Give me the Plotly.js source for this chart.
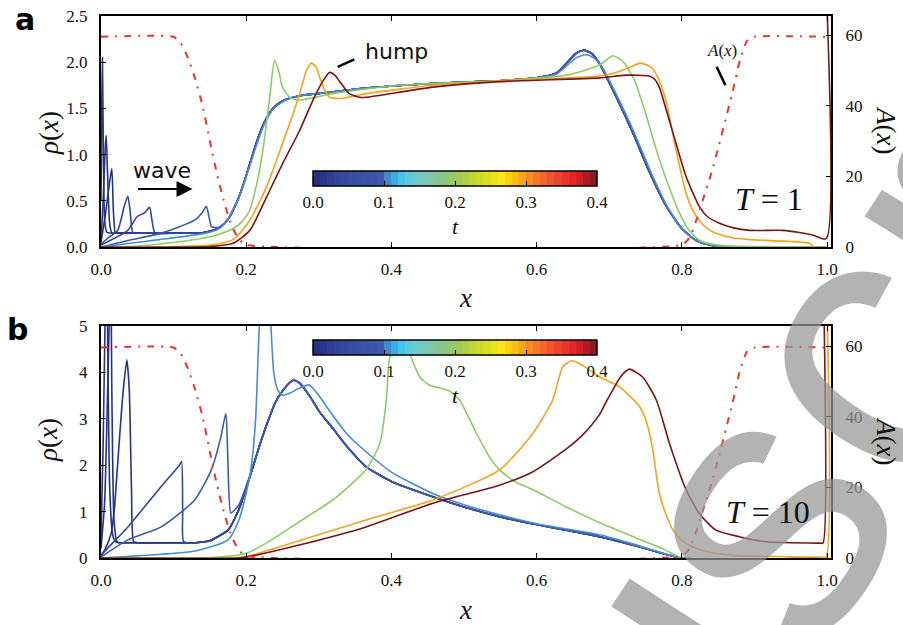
<!DOCTYPE html>
<html><head><meta charset="utf-8">
<script src="https://cdn.plot.ly/plotly-3.0.1.min.js"></script>
<style>html,body{margin:0;padding:0;background:#fff}#chart{width:903px;height:625px}</style>
</head><body><div id="chart"></div>
<script>
// ---------------- DATA ----------------
const tTicks = [0.0, 0.1, 0.2, 0.3, 0.4];
const cbColors = ['#262f83','#2a3489','#2f3d93','#334599','#354a9e','#374ea1','#3951a4','#3a53a6','#3b56a8','#3d5aab',
 '#4588c8','#3aaee2','#48c3e9','#5bc9df','#6cc9cd','#78c7bb','#80c6a8','#86c594','#8bc682','#93c86f',
 '#a0cb5a','#afd046','#bed535','#cdda28','#dcdf20','#eae31b','#fae517','#fdd013','#fcbd15','#faa61c',
 '#f78e22','#f57927','#f2662a','#ef552c','#ec452c','#e8362a','#e32628','#d01f27','#b01c25','#8f1a20'];

// A(x) profile (right axis)
const Ax = [0,0.10,0.11,0.12,0.13,0.14,0.15,0.16,0.17,0.18,0.19,0.20,0.80,0.81,0.82,0.83,0.84,0.85,0.86,0.87,0.88,0.89,0.90,1.0];
const Av = [59.6,59.6,57.8,53.5,47.5,40,30,20.5,12.5,6,2.2,0.6,0.6,2.5,7.6,14,20.5,28,36,44,53,58.5,59.6,59.6];

// ---- panel a (T = 1) ----
const aBulkX = [0.02,0.05,0.10,0.14,0.155,0.165,0.175,0.185,0.195,0.205,0.215,0.225,0.237,0.25,0.265,0.28,0.30,0.365,0.457,0.549,0.60,0.627,0.64,0.655,0.665,0.675,0.687,0.71,0.733,0.755,0.778,0.80,0.82,0.84,0.86,1.0];
const aBulkRho = [0.15,0.15,0.15,0.155,0.18,0.22,0.30,0.45,0.65,0.90,1.15,1.35,1.50,1.58,1.62,1.645,1.66,1.72,1.77,1.80,1.83,1.88,1.98,2.10,2.13,2.10,1.98,1.62,1.23,0.82,0.45,0.20,0.07,0.02,0.0,0.0];
const aW0x = [0,0.001,0.002,0.003,0.005,0.008];           const aW0y = [0.5,1.5,2.05,1.2,0.3,0.16];
const aW1x = [0,0.003,0.006,0.0072,0.009,0.012,0.015];    const aW1y = [0.05,0.5,1.1,1.21,0.8,0.25,0.15];
const aW2x = [0,0.006,0.011,0.0149,0.017,0.0195];         const aW2y = [0.05,0.35,0.65,0.85,0.4,0.15];
const aW3x = [0,0.01,0.023,0.032,0.037,0.04,0.044];       const aW3y = [0.03,0.1,0.18,0.44,0.55,0.4,0.15];
const aW4x = [0,0.02,0.037,0.05,0.06,0.0668,0.07,0.0746]; const aW4y = [0.02,0.1,0.18,0.33,0.37,0.43,0.3,0.15];
const aW5x = [0,0.037,0.083,0.129,0.14,0.145,0.149,0.152,0.158]; const aW5y = [0,0.07,0.15,0.29,0.38,0.44,0.32,0.22,0.21];
const aT1x = [0,0.04,0.08,0.12,0.15,0.165,0.175,0.185,0.195,0.205,0.215,0.225,0.237,0.25,0.265,0.28,0.30,0.365,0.457,0.549,0.60,0.627,0.64,0.655,0.668,0.678,0.69,0.713,0.736,0.758,0.78,0.80,0.82,0.84,0.86,1.0];
const aT1y = [0,0.04,0.08,0.12,0.16,0.21,0.30,0.45,0.64,0.88,1.12,1.33,1.49,1.57,1.62,1.645,1.66,1.72,1.77,1.80,1.83,1.87,1.95,2.05,2.08,2.05,1.95,1.60,1.21,0.80,0.44,0.20,0.07,0.02,0,0];
const aT2x = [0,0.05,0.09,0.136,0.16,0.182,0.195,0.205,0.215,0.223,0.232,0.239,0.245,0.25,0.26,0.273,0.319,0.411,0.549,0.641,0.687,0.705,0.72,0.735,0.75,0.765,0.78,0.795,0.81,0.825,0.85,0.87,1.0];
const aT2y = [0,0.01,0.04,0.09,0.13,0.2,0.28,0.4,0.7,1.05,1.59,2.02,1.9,1.73,1.62,1.59,1.66,1.75,1.8,1.86,1.97,2.07,2.0,1.8,1.45,1.05,0.7,0.4,0.18,0.07,0.02,0.01,0];
const aT3x = [0,0.1,0.15,0.182,0.205,0.228,0.25,0.265,0.275,0.283,0.29,0.296,0.301,0.308,0.315,0.333,0.365,0.457,0.549,0.687,0.714,0.73,0.742,0.752,0.76,0.77,0.778,0.792,0.806,0.815,0.824,0.835,0.847,0.87,0.893,0.976,0.982,1.0];
const aT3y = [0,0.005,0.02,0.08,0.29,0.65,1.12,1.45,1.7,1.91,1.99,1.95,1.84,1.7,1.62,1.61,1.66,1.75,1.8,1.85,1.9,1.95,1.99,1.97,1.93,1.78,1.59,1.05,0.58,0.4,0.29,0.2,0.15,0.1,0.08,0.04,0.0,0.0];
const aT4x = [0,0.15,0.182,0.205,0.228,0.25,0.273,0.292,0.306,0.315,0.322,0.328,0.342,0.356,0.365,0.457,0.549,0.687,0.723,0.755,0.762,0.769,0.778,0.788,0.806,0.824,0.835,0.851,0.87,0.893,0.939,0.96,0.98,0.999,0.9995];
const aT4y = [0,0.005,0.04,0.18,0.54,0.9,1.25,1.59,1.8,1.89,1.86,1.8,1.66,1.62,1.62,1.73,1.79,1.83,1.86,1.85,1.82,1.73,1.5,1.23,0.76,0.44,0.33,0.26,0.21,0.18,0.18,0.16,0.13,0.09,2.7];

// ---- panel b (T = 10) ----
const bBulkX = [0.025,0.05,0.10,0.13,0.15,0.16,0.175,0.19,0.20,0.21,0.22,0.23,0.24,0.25,0.258,0.265,0.273,0.287,0.301,0.319,0.34,0.365,0.40,0.457,0.50,0.549,0.60,0.641,0.687,0.74,0.80,1.0];
const bBulkRho = [0.33,0.33,0.33,0.33,0.37,0.45,0.6,1.05,1.5,2.0,2.5,2.95,3.35,3.6,3.75,3.83,3.78,3.5,3.15,2.8,2.38,1.97,1.65,1.32,1.1,0.89,0.72,0.6,0.46,0.25,0.0,0.0];
const bW1x = [0,0.003,0.006,0.0075,0.009,0.012,0.016,0.02];            const bW1y = [0.4,2.5,5.5,6.5,5,1.5,0.5,0.35];
const bW2x = [0,0.005,0.009,0.012,0.0135,0.015,0.018,0.022];          const bW2y = [0.2,1.2,3.5,5.5,6.0,3.5,0.8,0.35];
const bW3x = [0,0.005,0.014,0.0186,0.023,0.03,0.0356,0.039,0.042,0.045]; const bW3y = [0.05,0.17,0.53,1.1,2.04,3.5,4.27,3.6,1.5,0.35];
const bW4x = [0,0.0025,0.037,0.083,0.1,0.108,0.111,0.1125,0.114];     const bW4y = [0.05,0.1,0.67,1.54,1.85,2.0,2.08,1.0,0.35];
const bW5x = [0,0.037,0.083,0.129,0.152,0.165,0.172,0.175,0.179,0.19,0.20]; const bW5y = [0.02,0.39,0.67,1.25,1.9,2.6,3.12,2.0,0.97,1.15,1.55];
const bT1x = [0,0.083,0.13,0.175,0.19,0.2,0.207,0.213,0.218,0.226,0.234,0.238,0.2436,0.25,0.26,0.273,0.287,0.301,0.319,0.34,0.365,0.4,0.457,0.5,0.549,0.6,0.687,0.74,0.8,1.0];
const bT1y = [0,0.08,0.15,0.39,0.82,1.4,1.97,3.0,5.0,7.0,5.0,4.0,3.62,3.51,3.55,3.66,3.73,3.48,3.08,2.65,2.29,1.85,1.39,1.15,0.93,0.74,0.5,0.27,0.0,0.0];
const bT2x = [0,0.15,0.2,0.2275,0.273,0.319,0.365,0.384,0.393,0.397,0.403,0.41,0.418,0.425,0.439,0.452,0.468,0.48,0.494,0.517,0.535,0.549,0.57,0.595,0.641,0.687,0.733,0.778,0.8,1.0];
const bT2y = [0,0.005,0.1,0.32,0.78,1.25,1.9,2.47,3.4,4.27,4.55,4.62,4.55,4.4,3.9,3.73,3.66,3.6,3.4,2.69,2.18,1.9,1.65,1.47,1.1,0.76,0.46,0.17,0.0,0.0];
const bT3x = [0,0.18,0.2,0.273,0.365,0.457,0.549,0.595,0.622,0.636,0.648,0.66,0.673,0.687,0.714,0.742,0.752,0.76,0.769,0.778,0.788,0.8,0.815,0.84,0.87,0.99,0.9985,0.999];
const bT3y = [0,0.0,0.03,0.37,0.82,1.25,1.9,2.69,3.4,4.12,4.25,4.18,4.05,3.9,3.69,3.26,2.9,2.33,1.39,0.95,0.6,0.38,0.24,0.12,0.06,0.02,0.02,6];
const bT4x = [0,0.19,0.2,0.273,0.365,0.457,0.549,0.595,0.641,0.66,0.675,0.687,0.697,0.706,0.714,0.721,0.728,0.746,0.765,0.783,0.806,0.824,0.847,0.879,0.916,0.99,0.9945,0.995];
const bT4y = [0,0,0.02,0.28,0.67,1.18,1.57,1.86,2.35,2.6,2.85,3.1,3.4,3.65,3.87,4.0,4.07,3.9,3.4,2.47,1.47,0.96,0.6,0.46,0.35,0.32,0.32,6];

// ---------------- BUILD ----------------
const C = {navy:'#283285', blue:'#33469a', blue2:'#3b5aad', light:'#4a8bcb', green:'#8fca65', orange:'#f9a11b', dred:'#7b1416', red:'#f0322d'};
function withBulk(px, py, bx, by){
  const last = px[px.length-1];
  const xs = px.slice(), ys = py.slice();
  for (let i=0;i<bx.length;i++){ if (bx[i] > last){ xs.push(bx[i]); ys.push(by[i]); } }
  return [xs, ys];
}
function line(x, y, color, xa, ya){
  return {type:'scatter', mode:'lines', x:x, y:y, xaxis:xa, yaxis:ya, hoverinfo:'skip', showlegend:false,
          line:{color:color, width:1.6, shape:'spline', smoothing:0.6}};
}
const DASH = '7px,7px,2px,7px';
const traces = [];
const aW = [[aW0x,aW0y,C.navy],[aW1x,aW1y,C.navy],[aW2x,aW2y,C.navy],[aW3x,aW3y,C.blue],[aW4x,aW4y,C.blue],[aW5x,aW5y,C.blue2]];
aW.forEach(w => { const [xs,ys] = withBulk(w[0],w[1],aBulkX,aBulkRho); traces.push(line(xs,ys,w[2],'x','y')); });
traces.push(line(aT1x,aT1y,C.light,'x','y'));
traces.push(line(aT2x,aT2y,C.green,'x','y'));
traces.push(line(aT3x,aT3y,C.orange,'x','y'));
traces.push(line(aT4x,aT4y,C.dred,'x','y'));
traces.push({type:'scatter', mode:'lines', x:Ax, y:Av, xaxis:'x', yaxis:'y2', hoverinfo:'skip', showlegend:false,
  line:{color:C.red, width:2, dash:DASH, shape:'spline', smoothing:0.5}});

const bW = [[bW1x,bW1y,C.navy],[bW2x,bW2y,C.navy],[bW3x,bW3y,C.navy],[bW4x,bW4y,C.blue],[bW5x,bW5y,C.blue2]];
bW.forEach(w => { const [xs,ys] = withBulk(w[0],w[1],bBulkX,bBulkRho); traces.push(line(xs,ys,w[2],'x2','y3')); });
traces.push(line(bT1x,bT1y,C.light,'x2','y3'));
traces.push(line(bT2x,bT2y,C.green,'x2','y3'));
traces.push(line(bT3x,bT3y,C.orange,'x2','y3'));
traces.push(line(bT4x,bT4y,C.dred,'x2','y3'));
traces.push({type:'scatter', mode:'lines', x:Ax, y:Av, xaxis:'x2', yaxis:'y4', hoverinfo:'skip', showlegend:false,
  line:{color:C.red, width:2, dash:DASH, shape:'spline', smoothing:0.5}});

const n = cbColors.length, cs = [];
cbColors.forEach((c,i) => { cs.push([i/n, c]); cs.push([(i+1)/n, c]); });

const L=101, R=831, T=16, B=558, W=R-L, H=B-T;
const px = v => (v-L)/W, py = v => (B-v)/H;
const serif = 'Liberation Serif';
const tickF = {family:serif, size:17, color:'#111'};

function cbTrace(xa, ya, ytop){
  return {type:'scatter', mode:'markers', x:[-5], y:[-5], xaxis:xa, yaxis:ya, hoverinfo:'skip', showlegend:false,
    marker:{color:[0], cmin:0, cmax:0.4, colorscale:cs, showscale:true, size:1,
      colorbar:{orientation:'h', x:px(455), xanchor:'center', y:py(ytop), yanchor:'top',
        len:284, lenmode:'pixels', thickness:15, thicknessmode:'pixels', xpad:0, ypad:0,
        outlinewidth:1.5, outlinecolor:'#000', tickvals:tTicks, ticktext:tTicks.map(v=>v.toFixed(1)),
        ticks:'inside', ticklen:5, tickcolor:'#000', tickwidth:1, tickfont:tickF,
        title:{text:'<i>t</i>', side:'bottom', font:{family:serif, size:22, color:'#111'}}}}};
}
traces.push(cbTrace('x','y',171));
traces.push(cbTrace('x2','y3',340));

const axBase = {showline:true, linecolor:'#000', linewidth:2, ticks:'inside', ticklen:5, tickwidth:1, tickcolor:'#000',
  showgrid:false, zeroline:false, tickfont:tickF, fixedrange:true};
const xr = [0, 1.0055];
const domA = [py(247), 1], domB = [0, py(326)];

function ann(x, y, text, font, extra){
  return Object.assign({xref:'paper', yref:'paper', x:px(x), y:py(y), text:text, showarrow:false,
    xanchor:'center', yanchor:'middle', font:font}, extra||{});
}
const sans = 'DejaVu Sans';
const annotations = [
  ann(782,470,'uscr',{family:'Liberation Sans',size:380,color:'rgba(150,150,150,0.72)'},{textangle:-57}),
  ann(13,19,'<b>a</b>',{family:sans,size:30,color:'#000'},{xanchor:'left'}),
  ann(5,330,'<b>b</b>',{family:sans,size:30,color:'#000'},{xanchor:'left'}),
  ann(49,133,'<i>ρ</i>(<i>x</i>)',{family:serif,size:27,color:'#111'},{textangle:-90}),
  ann(48,440,'<i>ρ</i>(<i>x</i>)',{family:serif,size:27,color:'#111'},{textangle:-90}),
  ann(886,130,'<i>A</i>(<i>x</i>)',{family:serif,size:27,color:'#111'},{textangle:90}),
  ann(886,441,'<i>A</i>(<i>x</i>)',{family:serif,size:27,color:'#111'},{textangle:90}),
  ann(465,298,'<i>x</i>',{family:serif,size:27,color:'#111'}),
  ann(465,610,'<i>x</i>',{family:serif,size:27,color:'#111'}),
  ann(162,170,'wave',{family:sans,size:22,color:'#111'}),
  ann(396,52,'hump',{family:sans,size:22,color:'#111'}),
  ann(722,50,'<i>A</i>(<i>x</i>)',{family:serif,size:17,color:'#111'}),
  ann(769,199,'<i>T</i> = 1',{family:serif,size:32,color:'#111'}),
  ann(768,512,'<i>T</i> = 10',{family:serif,size:32,color:'#111'}),
  {xref:'x', yref:'y', x:0.126, y:0.627, ax:0.049, ay:0.627, axref:'x', ayref:'y', text:'', showarrow:true,
   arrowhead:2, arrowsize:1.6, arrowwidth:2, arrowcolor:'#000'}
];
const shapes = [
  {type:'line', xref:'x', yref:'y', x0:0.326, y0:1.95, x1:0.349, y1:2.03, line:{color:'#000', width:2.5}},
  {type:'line', xref:'x', yref:'y', x0:0.848, y0:1.95, x1:0.860, y1:1.75, line:{color:'#000', width:2.5}}
];

const layout = {
  width:903, height:625, margin:{l:L, r:903-R, t:T, b:625-B, pad:0},
  paper_bgcolor:'#fff', plot_bgcolor:'rgba(0,0,0,0)', showlegend:false,
  xaxis: Object.assign({}, axBase, {domain:[0,1], anchor:'y', range:xr, mirror:'ticks', tickvals:[0,0.2,0.4,0.6,0.8,1.0], tickformat:'.1f', ticklabelstandoff:6}),
  yaxis: Object.assign({}, axBase, {domain:domA, anchor:'x', range:[0,2.5], tickvals:[0,0.5,1,1.5,2,2.5], tickformat:'.1f', ticklabelstandoff:8}),
  yaxis2: Object.assign({}, axBase, {overlaying:'y', side:'right', anchor:'x', range:[0,65.5], tickvals:[0,20,40,60], ticklabelstandoff:9}),
  xaxis2: Object.assign({}, axBase, {domain:[0,1], anchor:'y3', range:xr, mirror:'ticks', tickvals:[0,0.2,0.4,0.6,0.8,1.0], tickformat:'.1f', ticklabelstandoff:6}),
  yaxis3: Object.assign({}, axBase, {domain:domB, anchor:'x2', range:[0,5], tickvals:[0,1,2,3,4,5], ticklabelstandoff:8}),
  yaxis4: Object.assign({}, axBase, {overlaying:'y3', side:'right', anchor:'x2', range:[0,65.7], tickvals:[0,20,40,60], ticklabelstandoff:9}),
  annotations: annotations, shapes: shapes
};
Plotly.newPlot('chart', traces, layout, {staticPlot:true, displayModeBar:false});
</script></body></html>
